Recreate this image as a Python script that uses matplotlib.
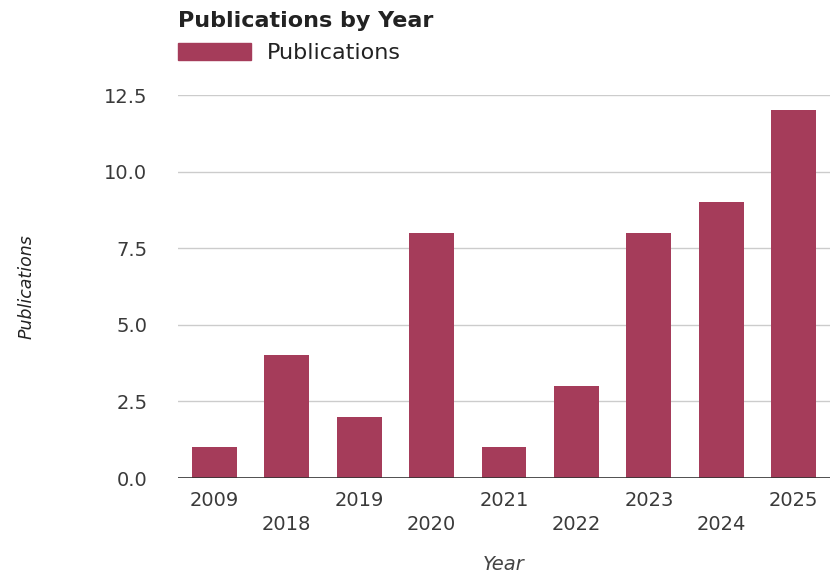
import matplotlib.pyplot as plt
from matplotlib.patches import Patch

years = ['2009', '2018', '2019', '2020', '2021', '2022', '2023', '2024', '2025']
pubs = [1, 4, 2, 8, 1, 3, 8, 9, 12]
yticks = [0, 2.5, 5, 7.5, 10, 12.5]

bar_color = '#a53c5a'

plt.rcParams['font.family'] = ['DejaVu Sans']

fig = plt.figure(figsize=(8.36, 5.77), dpi=100)
ax = fig.add_axes([178 / 836, 1 - 478 / 577, 652 / 836, 383 / 577])

x = list(range(len(years)))
ax.bar(x, pubs, width=0.62, color=bar_color, zorder=3)

ax.set_xlim(-0.5, len(years) - 0.5)
ax.set_ylim(0, 12.5)
ax.set_yticks(yticks)
ax.set_yticklabels(['%.1f' % v for v in yticks])
ax.grid(axis='y', color='#cccccc', linewidth=1, zorder=0)
ax.axhline(0, color='#333333', linewidth=1.2, zorder=4)

# staggered year labels
ax.set_xticks(x)
ax.set_xticklabels([y if i % 2 == 0 else '\n' + y for i, y in enumerate(years)],
                   linespacing=1.35)
ax.tick_params(axis='x', length=0, pad=9, labelsize=14, labelcolor='#3a3a3a')
ax.tick_params(axis='y', length=0, pad=22, labelsize=14, labelcolor='#3a3a3a')
for s in ax.spines.values():
    s.set_visible(False)

fig.text(27 / 836, 1 - 287 / 577, 'Publications', rotation=90, style='italic',
         fontsize=12.5, color='#222222', ha='center', va='center')
fig.text(504 / 836, 1 - 565 / 577, 'Year', style='italic',
         fontsize=14, color='#444444', ha='center', va='center')

fig.text(178 / 836, 1 - 21 / 577, 'Publications by Year', fontweight='bold',
         fontsize=16, color='#222222', ha='left', va='center')

leg = ax.legend(handles=[Patch(color=bar_color, label='Publications')],
                loc='center left', bbox_to_anchor=(178 / 836, 1 - 53 / 577),
                bbox_transform=fig.transFigure, frameon=False, borderpad=0,
                borderaxespad=0, handlelength=3.3, handleheight=0.85,
                handletextpad=0.7, fontsize=16)
for t in leg.get_texts():
    t.set_color('#222222')

fig.savefig('out.png', dpi=100)
